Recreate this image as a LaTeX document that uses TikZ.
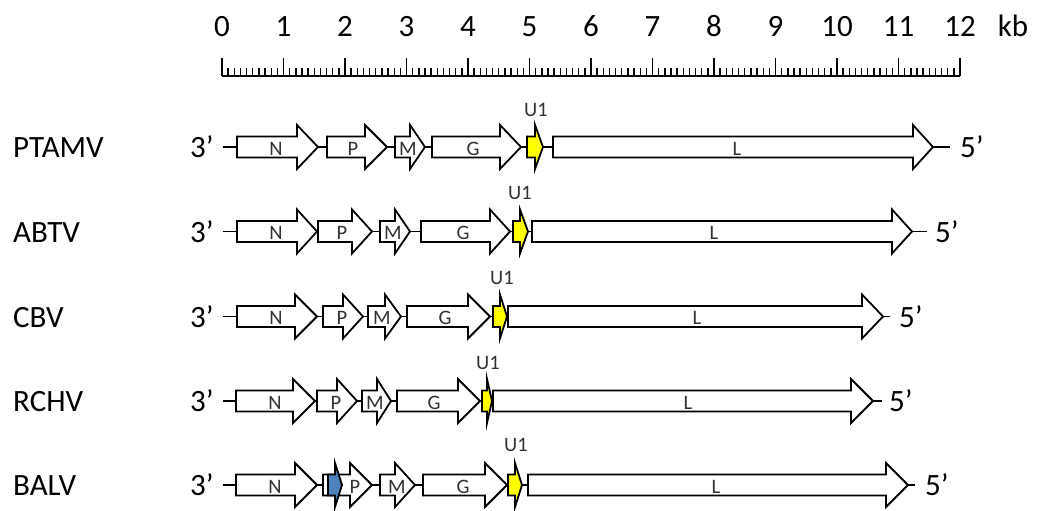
\documentclass[tikz,border=0pt]{standalone}
\usepackage{fontspec}
\setmainfont{Carlito}
\definecolor{orfblue}{RGB}{79,129,189}
\definecolor{orfyellow}{RGB}{255,255,0}
\definecolor{glabel}{RGB}{50,50,50}
\tikzset{
  genebox/.style={draw=black, line width=1.8pt, line join=miter, fill=white},
  backbone/.style={draw=black, line width=1.8pt},
  bigtext/.style={font=\fontsize{31}{36}\selectfont, inner sep=0pt},
  genetext/.style={font=\fontsize{20.5}{24}\selectfont, text=glabel, inner sep=0pt},
  majortick/.style={line width=1.8pt},
  minortick/.style={line width=1.4pt}
}
% #1 x0, #2 head base, #3 tip, #4 y centre, #5 style
\newcommand{\genearrow}[5]{%
  \path[genebox,#5] (#1,#4-10.5) -- (#2,#4-10.5) -- (#2,#4-22) -- (#3,#4)
    -- (#2,#4+22) -- (#2,#4+10.5) -- (#1,#4+10.5) -- cycle;}
\begin{document}
\begin{tikzpicture}[x=1pt,y=-1pt]
\useasboundingbox (0,0) rectangle (1037,511);
% ruler
\draw[majortick] (222,76) coordinate (r0) -- (960,76) coordinate (r12);
\foreach \i in {0,...,12}{
  \draw[majortick] (222+61.5*\i,76) -- ++(0,-18);
  \node[bigtext, anchor=base] (num\i) at (222+61.5*\i,37) {\i};
}
\foreach \i in {1,...,119}{
  \draw[minortick] (222+6.15*\i,76) -- ++(0,-8);
}
\node[bigtext, anchor=base] (kb) at (1013,37) {kb};

% ---------- row 1 PTAMV ----------
\def\yc{147}
\node[bigtext, anchor=base west] (lab1) at (13,\yc+10.5) {PTAMV};
\node[bigtext, anchor=base west] (t1) at (190,\yc+10.5) {3’};
\node[bigtext, anchor=base west] (f1) at (960,\yc+10.5) {5’};
\draw[backbone] (223,\yc) coordinate (s1) -- (950,\yc) coordinate (e1);
\genearrow{237}{297}{318}{\yc}{}
\genearrow{327}{365}{387}{\yc}{}
\genearrow{395}{410}{425}{\yc}{}
\genearrow{432}{500}{521}{\yc}{}
\genearrow{527}{535}{543}{\yc}{fill=orfyellow}
\genearrow{553}{913}{933}{\yc}{}
\node[genetext] (n1) at (276,\yc+1.5) {N};
\node[genetext] (p1) at (353,\yc+1.5) {P};
\node[genetext] (m1) at (408,\yc+1.5) {M};
\node[genetext] (g1) at (473,\yc+1.5) {G};
\node[genetext] (l1) at (737,\yc+1.5) {L};
\node[genetext] (u1) at (536,110) {U1};

% ---------- row 2 ABTV ----------
\def\yc{231.5}
\node[bigtext, anchor=base west] (lab2) at (13,\yc+10.5) {ABTV};
\node[bigtext, anchor=base west] (t2) at (190,\yc+10.5) {3’};
\node[bigtext, anchor=base west] (f2) at (935,\yc+10.5) {5’};
\draw[backbone] (223,\yc) coordinate (s2) -- (927,\yc) coordinate (e2);
\genearrow{237}{297}{317}{\yc}{}
\genearrow{318}{352}{372}{\yc}{}
\genearrow{380}{395}{410}{\yc}{}
\genearrow{421}{490}{510}{\yc}{}
\genearrow{513}{520}{528}{\yc}{fill=orfyellow}
\genearrow{532}{892}{912}{\yc}{}
\node[genetext] (n2) at (276,\yc+1.5) {N};
\node[genetext] (p2) at (342,\yc+1.5) {P};
\node[genetext] (m2) at (393,\yc+1.5) {M};
\node[genetext] (g2) at (463,\yc+1.5) {G};
\node[genetext] (l2) at (714,\yc+1.5) {L};
\node[genetext] (u2) at (520,193) {U1};

% ---------- row 3 CBV ----------
\def\yc{316.5}
\node[bigtext, anchor=base west] (lab3) at (13,\yc+10.5) {CBV};
\node[bigtext, anchor=base west] (t3) at (190,\yc+10.5) {3’};
\node[bigtext, anchor=base west] (f3) at (899,\yc+10.5) {5’};
\draw[backbone] (223,\yc) coordinate (s3) -- (890,\yc) coordinate (e3);
\genearrow{237}{295}{317}{\yc}{}
\genearrow{323}{343}{363}{\yc}{}
\genearrow{368}{385}{401}{\yc}{}
\genearrow{407}{468}{490}{\yc}{}
\genearrow{493}{500}{507}{\yc}{fill=orfyellow}
\genearrow{508}{862}{883}{\yc}{}
\node[genetext] (n3) at (276,\yc+1.5) {N};
\node[genetext] (p3) at (342,\yc+1.5) {P};
\node[genetext] (m3) at (382,\yc+1.5) {M};
\node[genetext] (g3) at (445,\yc+1.5) {G};
\node[genetext] (l3) at (697,\yc+1.5) {L};
\node[genetext] (u3) at (502,278) {U1};

% ---------- row 4 RCHV ----------
\def\yc{401}
\node[bigtext, anchor=base west] (lab4) at (13,\yc+10.5) {RCHV};
\node[bigtext, anchor=base west] (t4) at (190,\yc+10.5) {3’};
\node[bigtext, anchor=base west] (f4) at (889,\yc+10.5) {5’};
\draw[backbone] (223,\yc) coordinate (s4) -- (882,\yc) coordinate (e4);
\genearrow{236}{293}{315}{\yc}{}
\genearrow{317}{337}{357}{\yc}{}
\genearrow{362}{377}{391}{\yc}{}
\genearrow{397}{458}{480}{\yc}{}
\genearrow{482}{487}{492}{\yc}{fill=orfyellow}
\genearrow{493}{851}{873}{\yc}{}
\node[genetext] (n4) at (275,\yc+1.5) {N};
\node[genetext] (p4) at (336,\yc+1.5) {P};
\node[genetext] (m4) at (375,\yc+1.5) {M};
\node[genetext] (g4) at (434,\yc+1.5) {G};
\node[genetext] (l4) at (688,\yc+1.5) {L};
\node[genetext] (u4) at (488,363) {U1};

% ---------- row 5 BALV ----------
\def\yc{485}
\node[bigtext, anchor=base west] (lab5) at (13,\yc+10.5) {BALV};
\node[bigtext, anchor=base west] (t5) at (190,\yc+10.5) {3’};
\node[bigtext, anchor=base west] (f5) at (925,\yc+10.5) {5’};
\draw[backbone] (223,\yc) coordinate (s5) -- (915,\yc) coordinate (e5);
\genearrow{236}{295}{317}{\yc}{}
\genearrow{323}{350}{372}{\yc}{}
\genearrow{328}{335}{342}{\yc}{fill=orfblue}
\genearrow{380}{395}{415}{\yc}{}
\genearrow{423}{485}{507}{\yc}{}
\genearrow{508}{515}{522}{\yc}{fill=orfyellow}
\genearrow{528}{886}{908}{\yc}{}
\node[genetext] (n5) at (275,\yc+1.5) {N};
\node[genetext] (p5) at (355,\yc+1.5) {P};
\node[genetext] (m5) at (397,\yc+1.5) {M};
\node[genetext] (g5) at (463,\yc+1.5) {G};
\node[genetext] (l5) at (716,\yc+1.5) {L};
\node[genetext] (u5) at (516,445) {U1};
\end{tikzpicture}
\end{document}
